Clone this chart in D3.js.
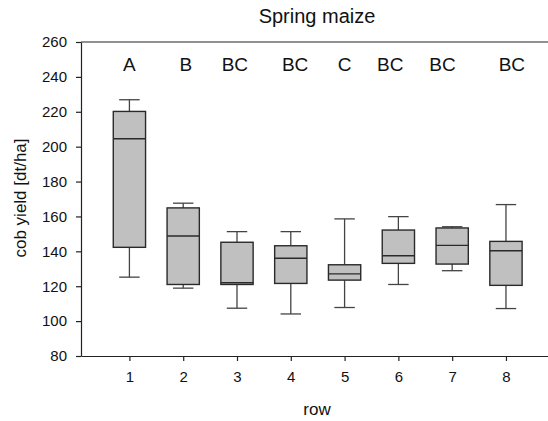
<!DOCTYPE html>
<html lang="en">
    <head>
        <meta charset="utf-8">
        <title>Spring maize - cob yield</title>
        <script type="text/javascript" src="https://d3js.org/d3.v7.min.js"></script>
        <style type="text/css">
            body { margin: 0; background: #fff; }
            svg text { font-family: "Liberation Sans", Arial, sans-serif; fill: #111; }
            .axis path, .axis line { stroke: #222; stroke-width: 1.2; }
            .axis text { font-size: 15px; }
        </style>
    </head>
    <body>
    <script type="text/javascript">

        const width = 548;
        const height = 421;

        // data
        const rows = [1, 2, 3, 4, 5, 6, 7, 8];
        const whiskerLow  = [125.2, 118.9, 107.4, 104.1, 107.8, 121.0, 128.9, 107.2];
        const q1          = [142.3, 121.0, 121.0, 121.6, 123.5, 133.1, 132.7, 120.5];
        const median      = [204.5, 148.8, 122.0, 136.0, 127.1, 137.5, 143.4, 140.3];
        const q3          = [220.2, 164.9, 145.2, 143.2, 132.3, 152.2, 153.4, 145.7];
        const whiskerHigh = [226.9, 167.6, 151.3, 151.3, 158.6, 159.9, 154.1, 166.8];

        // significance letters and where they sit (in row units)
        const letters   = ["A", "B", "BC", "BC", "C", "BC", "BC", "BC"];
        const letterPos = [1.0, 2.05, 2.96, 4.08, 5.0, 5.85, 6.82, 8.11];

        const yTicks = [80, 100, 120, 140, 160, 180, 200, 220, 240, 260];

        const boxes = rows.map((r, i) => ({
            row: r,
            lo: whiskerLow[i], q1: q1[i], med: median[i], q3: q3[i], hi: whiskerHigh[i]
        }));

        const xScale = d3.scaleLinear()
                        .domain([0.1, 8.8])
                        .range([81, 549]);

        const yScale = d3.scaleLinear()
                        .domain([80, 260])
                        .range([356, 42]);

        const boxHalf = 0.3;
        const capHalf = 0.19;

        const svg = d3.select("body")
                    .append("svg")
                    .attr("width", width)
                    .attr("height", height);

        // whiskers
        const g = svg.selectAll("g.box")
            .data(boxes)
            .enter()
            .append("g")
            .attr("class", "box");

        g.append("line")
            .attr("x1", d => xScale(d.row)).attr("x2", d => xScale(d.row))
            .attr("y1", d => yScale(d.q3)).attr("y2", d => yScale(d.hi))
            .attr("stroke", "#444").attr("stroke-width", 1.3);
        g.append("line")
            .attr("x1", d => xScale(d.row)).attr("x2", d => xScale(d.row))
            .attr("y1", d => yScale(d.q1)).attr("y2", d => yScale(d.lo))
            .attr("stroke", "#444").attr("stroke-width", 1.3);
        g.append("line")
            .attr("x1", d => xScale(d.row - capHalf)).attr("x2", d => xScale(d.row + capHalf))
            .attr("y1", d => yScale(d.hi)).attr("y2", d => yScale(d.hi))
            .attr("stroke", "#444").attr("stroke-width", 1.3);
        g.append("line")
            .attr("x1", d => xScale(d.row - capHalf)).attr("x2", d => xScale(d.row + capHalf))
            .attr("y1", d => yScale(d.lo)).attr("y2", d => yScale(d.lo))
            .attr("stroke", "#444").attr("stroke-width", 1.3);

        // boxes
        g.append("rect")
            .attr("x", d => xScale(d.row - boxHalf))
            .attr("y", d => yScale(d.q3))
            .attr("width", d => xScale(d.row + boxHalf) - xScale(d.row - boxHalf))
            .attr("height", d => yScale(d.q1) - yScale(d.q3))
            .attr("fill", "#c0c0c0")
            .attr("stroke", "#2a2a2a")
            .attr("stroke-width", 1.4);

        // medians
        g.append("line")
            .attr("x1", d => xScale(d.row - boxHalf)).attr("x2", d => xScale(d.row + boxHalf))
            .attr("y1", d => yScale(d.med)).attr("y2", d => yScale(d.med))
            .attr("stroke", "#2a2a2a").attr("stroke-width", 1.4);

        // letters
        svg.selectAll("text.letter")
            .data(letters)
            .enter()
            .append("text")
            .attr("class", "letter")
            .attr("x", (d, i) => xScale(letterPos[i]))
            .attr("y", 71)
            .attr("text-anchor", "middle")
            .attr("font-size", "19px")
            .text(d => d);

        // axes
        svg.append("g")
            .attr("class", "axis")
            .attr("transform", "translate(0," + yScale(80) + ")")
            .call(d3.axisBottom(xScale).tickValues(rows).tickFormat(d3.format("d"))
                    .tickSize(5).tickSizeOuter(0).tickPadding(10));

        svg.append("g")
            .attr("class", "axis")
            .attr("transform", "translate(" + xScale.range()[0] + ",0)")
            .call(d3.axisLeft(yScale).tickValues(yTicks)
                    .tickSize(5).tickSizeOuter(0).tickPadding(9));

        // top frame line
        svg.append("line")
            .attr("x1", xScale.range()[0]).attr("x2", xScale.range()[1])
            .attr("y1", yScale(260)).attr("y2", yScale(260))
            .attr("stroke", "#222").attr("stroke-width", 1.2);

        // title
        svg.append("text")
            .attr("x", 317)
            .attr("y", 23)
            .attr("text-anchor", "middle")
            .attr("font-size", "20px")
            .text("Spring maize");

        // axis titles
        svg.append("text")
            .attr("x", 317)
            .attr("y", 415)
            .attr("text-anchor", "middle")
            .attr("font-size", "17px")
            .text("row");

        svg.append("text")
            .attr("transform", "translate(26," + 198 + ") rotate(-90)")
            .attr("text-anchor", "middle")
            .attr("font-size", "17px")
            .text("cob yield [dt/ha]");

    </script>
    </body>
</html>
